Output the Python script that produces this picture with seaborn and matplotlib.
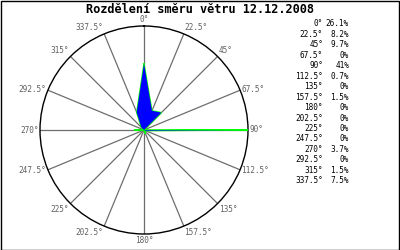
import numpy as np
import matplotlib
matplotlib.use("Agg")
import matplotlib.pyplot as plt
import seaborn as sns
from matplotlib.patches import Rectangle

# ---- data ----
directions = [0, 22.5, 45, 67.5, 90, 112.5, 135, 157.5,
              180, 202.5, 225, 247.5, 270, 292.5, 315, 337.5]
direction_labels = ["0°", "22.5°", "45°", "67.5°", "90°", "112.5°", "135°", "157.5°",
                    "180°", "202.5°", "225°", "247.5°", "270°", "292.5°", "315°", "337.5°"]
percent = [26.1, 8.2, 9.7, 0, 41, 0.7, 0, 1.5, 0, 0, 0, 0, 3.7, 0, 1.5, 7.5]
percent_labels = ["26.1%", "8.2%", "9.7%", "0%", "41%", "0.7%", "0%", "1.5%",
                  "0%", "0%", "0%", "0%", "3.7%", "0%", "1.5%", "7.5%"]
title = "Rozdělení směru větru 12.12.2008"

sns.set_theme(style="white")
plt.rcParams["font.family"] = ["DejaVu Sans Mono", "DejaVu Sans"]

W, H = 400, 250
fig = plt.figure(figsize=(W / 100, H / 100), dpi=100)
fig.patch.set_facecolor("white")

# polar axes: center (144,130), radius 104 px
cx, cy, R = 144, 130, 104
ax = fig.add_axes([(cx - R) / W, (H - cy - R) / H, 2 * R / W, 2 * R / H], projection="polar")
ax.set_theta_zero_location("N")
ax.set_theta_direction(-1)
ax.set_facecolor("white")

theta = np.deg2rad(directions)
theta_c = np.append(theta, theta[0])
r_c = np.append(percent, percent[0])

rmax = max(percent)

# outline (green) via seaborn, fill (blue) on top
sns.lineplot(x=theta_c, y=r_c, ax=ax, sort=False, estimator=None,
             color="#00ff00", linewidth=1.0, zorder=3)
ax.fill(theta_c, r_c, color="#0000ff", linewidth=0, zorder=4)
ax.set_xlabel("")
ax.set_ylabel("")

ax.set_thetagrids(directions, labels=[""] * len(directions))
ax.set_yticks([])
ax.xaxis.grid(True, color="#6e6e6e", linewidth=0.9)
ax.yaxis.grid(False)
ax.spines["polar"].set_color("black")
ax.spines["polar"].set_linewidth(1.0)
ax.set_ylim(0, rmax)

# direction labels around the circle
for ang, lab in zip(directions, direction_labels):
    s = np.sin(np.deg2rad(ang))
    c = np.cos(np.deg2rad(ang))
    ha = "left" if s > 0.1 else ("right" if s < -0.1 else "center")
    va = "bottom" if c > 0.5 else ("top" if c < -0.5 else "center")
    ax.text(np.deg2rad(ang), rmax * 1.015, lab, ha=ha, va=va, fontsize=5.6,
            color="#606060", clip_on=False)

# title
fig.text(200 / W, 1 - 9.5 / H, title, ha="center", va="center",
         fontsize=8.6, fontweight="bold", color="black")

# right-side table
y0, dy = 24, 10.45
for i, (lab, p) in enumerate(zip(direction_labels, percent_labels)):
    y = 1 - (y0 + i * dy) / H
    fig.text(323 / W, y, lab, ha="right", va="center", fontsize=5.6, color="black")
    fig.text(349 / W, y, p, ha="right", va="center", fontsize=5.6, color="black")

# border around figure
fig.add_artist(Rectangle((0.5 / W, 0.5 / H), 1 - 1.5 / W, 1 - 1.5 / H,
                         transform=fig.transFigure, fill=False,
                         edgecolor="black", linewidth=1.0))

fig.savefig("out.png", dpi=100, facecolor="white")
